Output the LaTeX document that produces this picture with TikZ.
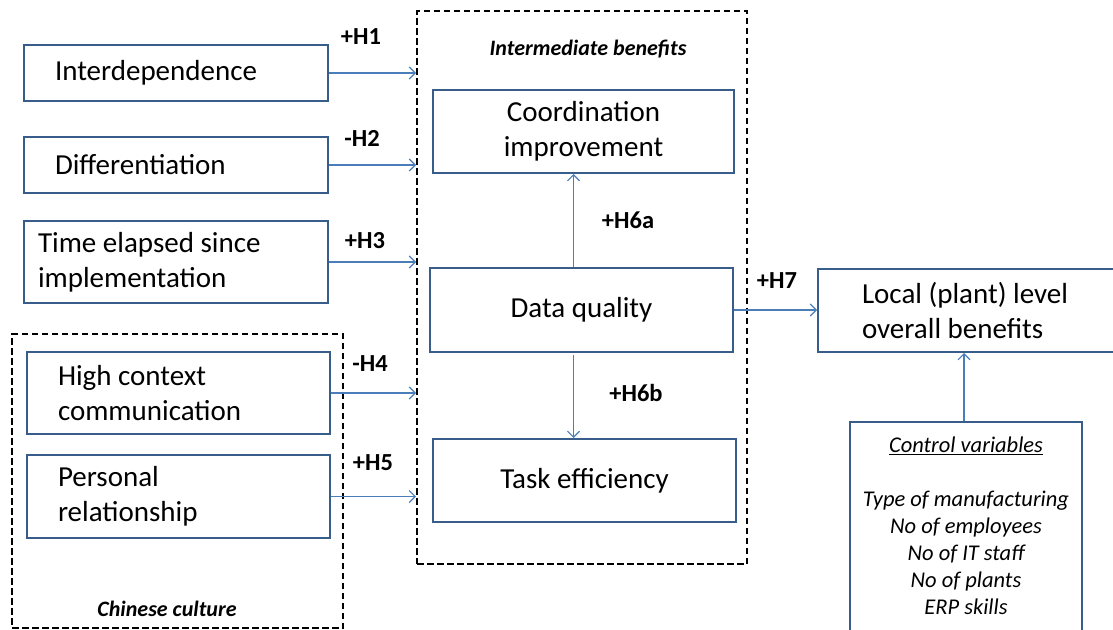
\documentclass[tikz,border=0pt]{standalone}
\usepackage{fontspec}
\setmainfont{Carlito}
\usetikzlibrary{arrows.meta}
\definecolor{boxline}{RGB}{56,93,138}
\definecolor{arrowline}{RGB}{74,126,187}
\begin{document}
\begin{tikzpicture}[x=1pt,y=-1pt,
  box/.style={draw=boxline, line width=2pt, anchor=north west, inner ysep=0pt,
    font=\fontsize{29}{35}\selectfont},
  lbox/.style={box, align=flush left, inner xsep=#1},
  cbox/.style={box, align=center},
  group/.style={draw=black, line width=2.1pt, dash pattern=on 6.5pt off 3.5pt,
    anchor=north west, inner sep=0pt},
  grouptitle/.style={font=\fontsize{22}{26}\selectfont\bfseries\itshape},
  hyp/.style={font=\fontsize{24.5}{28}\selectfont\bfseries},
  arr/.style={draw=arrowline, line width=1.1pt,
    -{Straight Barb[length=6pt,width=12pt,line width=1.1pt]}},
  ctrltext/.style={font=\fontsize{22.5}{27}\selectfont\itshape, align=center}
]
\useasboundingbox (0,0) rectangle (1113,629);

% dashed groupings
\node[group, minimum width=330, minimum height=553] (inter) at (416,10) {};
\node[group, minimum width=331, minimum height=294] (china) at (11,333) {};
\node[grouptitle] (intertitle) at (588,49) {Intermediate benefits};
\node[grouptitle] (chinatitle) at (167,609) {Chinese culture};

% antecedents
\node[lbox=31, text width=242, minimum height=56] (interdep) at (23,44) {Interdependence};
\node[lbox=31, text width=242, minimum height=56] (diff) at (23,136) {Differentiation};
\node[lbox=14, text width=276, minimum height=82] (time) at (23,220) {Time elapsed since\\implementation};
\node[lbox=31, text width=241, minimum height=82] (hcc) at (26,351) {High context\\communication};
\node[lbox=31, text width=241, minimum height=83] (pers) at (26,454) {Personal\\relationship};

% intermediate benefits
\node[cbox, minimum width=301, minimum height=83] (coord) at (432,89) {Coordination\\improvement};
\node[cbox, minimum width=303, minimum height=84] (dq) at (429,267) {Data quality};
\node[cbox, minimum width=303, minimum height=83] (task) at (432,438) {Task efficiency};

% outcome
\node[lbox=44, text width=232, minimum height=83] (local) at (817,268) {Local (plant) level\\overall benefits};

% control variables
\node[box, minimum width=232, minimum height=220] (ctrl) at (849,421) {};
\node[ctrltext, anchor=north] (ctrlvars) at ([yshift=-12pt]ctrl.north)
  {\underline{Control variables}\\[27pt]Type of manufacturing\\No of employees\\No of IT staff\\No of plants\\ERP skills};

% hypothesised links
\draw[arr] (interdep.east) -- (interdep.east -| inter.west);
\draw[arr] (diff.east) -- (diff.east -| inter.west);
\draw[arr] (time.east) -- (time.east -| inter.west);
\draw[arr] (hcc.east) -- (hcc.east -| inter.west);
\draw[arr] (pers.east) -- (pers.east -| inter.west);
\draw[arr] ([xshift=-8pt]dq.north) -- ([xshift=-8pt]dq.north |- coord.south);
\draw[arr] ([xshift=-8pt,yshift=-2pt]dq.south) -- ([xshift=-8pt]dq.south |- task.north);
\draw[arr] (dq.east) -- (dq.east -| local.west);
\draw[arr] ([xshift=-2pt]ctrl.north) -- ([xshift=-2pt]ctrl.north |- local.south);

% hypothesis labels
\node[hyp] (h1) at (361,37) {+H1};
\node[hyp] (h2) at (362,138) {-H2};
\node[hyp] (h3) at (365,241) {+H3};
\node[hyp] (h4) at (370,364) {-H4};
\node[hyp] (h5) at (373,463) {+H5};
\node[hyp] (h6a) at (628,220) {+H6a};
\node[hyp] (h6b) at (636,393) {+H6b};
\node[hyp] (h7) at (777,281) {+H7};
\end{tikzpicture}
\end{document}
